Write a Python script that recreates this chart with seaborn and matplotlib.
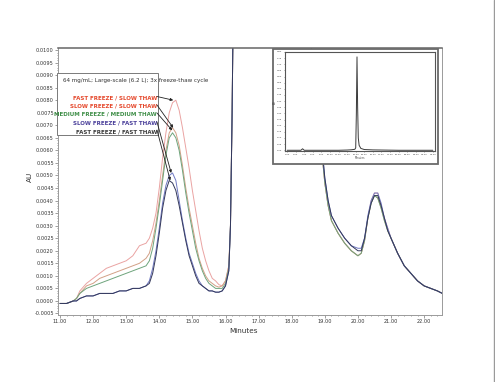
import matplotlib
matplotlib.use("Agg")
import matplotlib.pyplot as plt
import numpy as np
import pandas as pd
import seaborn as sns
from matplotlib.patches import Rectangle, ConnectionPatch
from matplotlib.lines import Line2D
from matplotlib.ticker import MultipleLocator, FormatStrFormatter

sns.set_theme(style="white")
plt.rcParams["font.family"] = ["DejaVu Sans"]

# ---------------- data ----------------
TIME = [11.0, 11.2, 11.4, 11.5, 11.6, 11.8, 12.0, 12.2, 12.4, 12.6, 12.8, 13.0,
        13.2, 13.4, 13.6, 13.7, 13.8, 13.9, 14.0, 14.1, 14.2, 14.3, 14.4, 14.5,
        14.6, 14.7, 14.8, 14.9, 15.0, 15.1, 15.2, 15.3, 15.4, 15.5, 15.6, 15.7,
        15.8, 15.9, 16.0, 16.1,
        16.15, 16.2, 16.25, 16.3, 16.5, 16.7, 17.0, 17.5, 18.0, 18.4, 18.6, 18.8,
        18.95, 19.0, 19.1, 19.2, 19.4, 19.6, 19.8, 20.0, 20.1, 20.2, 20.3, 20.4,
        20.5, 20.6, 20.7, 20.8, 20.9, 21.0, 21.2, 21.4, 21.6, 21.8, 22.0, 22.2,
        22.4, 22.55]

FAST_SLOW = [-0.0001, -0.0001, 0.0000, 0.0001, 0.0004, 0.0007, 0.0009, 0.0011, 0.0013, 0.0014, 0.0015, 0.0016,
             0.0018, 0.0022, 0.0023, 0.0025, 0.0029, 0.0035, 0.0045, 0.0057, 0.0067, 0.0075, 0.0079, 0.0080,
             0.0076, 0.0069, 0.0061, 0.0053, 0.0044, 0.0036, 0.0028, 0.0021, 0.0016, 0.0012, 0.0009, 0.0008,
             0.00065, 0.0006, 0.0008, 0.0014,
             0.0030, 0.0075, 0.0140, 0.030, 0.20, 0.36, 0.22, 0.06, 0.020, 0.0125, 0.0100, 0.0072,
             0.0054, 0.0047, 0.0038, 0.0032, 0.0027, 0.0023, 0.0020, 0.0018, 0.0019, 0.0024, 0.0033, 0.0040,
             0.0043, 0.0043, 0.0038, 0.0033, 0.0029, 0.0025, 0.0019, 0.0014, 0.0011, 0.0008, 0.0006, 0.0005,
             0.0004, 0.0003]

SLOW_SLOW = [-0.0001, -0.0001, 0.0000, 0.0001, 0.0003, 0.0006, 0.0007, 0.0009, 0.0010, 0.0011, 0.0012, 0.0013,
             0.0014, 0.0015, 0.0017, 0.0019, 0.0024, 0.0031, 0.0040, 0.0050, 0.0060, 0.0067, 0.0069, 0.0067,
             0.0062, 0.0054, 0.0045, 0.0037, 0.0030, 0.0023, 0.0017, 0.0013, 0.0010, 0.0008, 0.0007, 0.0006,
             0.00055, 0.0006, 0.0008, 0.0014,
             0.0030, 0.0075, 0.0140, 0.030, 0.20, 0.36, 0.22, 0.06, 0.020, 0.0125, 0.0100, 0.0072,
             0.0054, 0.0047, 0.0038, 0.0032, 0.0027, 0.0023, 0.0020, 0.0018, 0.0019, 0.0024, 0.0033, 0.0039,
             0.0042, 0.0041, 0.0037, 0.0032, 0.0028, 0.0025, 0.0019, 0.0014, 0.0011, 0.0008, 0.0006, 0.0005,
             0.0004, 0.0003]

MEDIUM_MEDIUM = [-0.0001, -0.0001, 0.0000, 0.0001, 0.0003, 0.0005, 0.0006, 0.0007, 0.0008, 0.0009, 0.0010, 0.0011,
                 0.0012, 0.0013, 0.0014, 0.0016, 0.0021, 0.0029, 0.0038, 0.0048, 0.0058, 0.0065, 0.0067, 0.0065,
                 0.0060, 0.0052, 0.0043, 0.0035, 0.0028, 0.0021, 0.0016, 0.0012, 0.0009, 0.0007, 0.0006, 0.0005,
                 0.0005, 0.0005, 0.0007, 0.0013,
                 0.0030, 0.0075, 0.0140, 0.030, 0.20, 0.36, 0.22, 0.06, 0.020, 0.0125, 0.0100, 0.0072,
                 0.0054, 0.0047, 0.0038, 0.0032, 0.0027, 0.0023, 0.0020, 0.0018, 0.0019, 0.0024, 0.0033, 0.0039,
                 0.0042, 0.0041, 0.0037, 0.0032, 0.0028, 0.0025, 0.0019, 0.0014, 0.0011, 0.0008, 0.0006, 0.0005,
                 0.0004, 0.0003]

SLOW_FAST = [-0.0001, -0.0001, 0.0000, 0.0000, 0.0001, 0.0002, 0.0002, 0.0003, 0.0003, 0.0003, 0.0004, 0.0004,
             0.0005, 0.0005, 0.0006, 0.0008, 0.0013, 0.0020, 0.0029, 0.0039, 0.0046, 0.0050, 0.0051, 0.0048,
             0.0040, 0.0032, 0.0025, 0.0019, 0.0015, 0.0011, 0.0008, 0.0006, 0.0005, 0.0004, 0.0004, 0.00035,
             0.00035, 0.0004, 0.0006, 0.0012,
             0.0030, 0.0075, 0.0140, 0.030, 0.20, 0.36, 0.22, 0.06, 0.020, 0.0125, 0.0100, 0.0073,
             0.0056, 0.0049, 0.0040, 0.0034, 0.0029, 0.0025, 0.0022, 0.0021, 0.0021, 0.0025, 0.0034, 0.0040,
             0.0043, 0.0043, 0.0039, 0.0033, 0.0029, 0.0025, 0.0019, 0.0014, 0.0011, 0.0008, 0.0006, 0.0005,
             0.0004, 0.0003]

FAST_FAST = [-0.0001, -0.0001, 0.0000, 0.0000, 0.0001, 0.0002, 0.0002, 0.0003, 0.0003, 0.0003, 0.0004, 0.0004,
             0.0005, 0.0005, 0.0006, 0.0007, 0.0011, 0.0018, 0.0027, 0.0037, 0.0044, 0.0048, 0.0047, 0.0044,
             0.0038, 0.0031, 0.0024, 0.0018, 0.0014, 0.0010, 0.0007, 0.0006, 0.0005, 0.0004, 0.0004, 0.00035,
             0.00035, 0.0004, 0.0006, 0.0012,
             0.0030, 0.0075, 0.0140, 0.030, 0.20, 0.36, 0.22, 0.06, 0.020, 0.0125, 0.0100, 0.0073,
             0.0056, 0.0049, 0.0040, 0.0034, 0.0029, 0.0025, 0.0022, 0.0020, 0.0020, 0.0025, 0.0033, 0.0039,
             0.0042, 0.0042, 0.0038, 0.0033, 0.0028, 0.0025, 0.0019, 0.0014, 0.0011, 0.0008, 0.0006, 0.0005,
             0.0004, 0.0003]

SAMPLES = ["FAST FREEZE / SLOW THAW", "SLOW FREEZE / SLOW THAW", "MEDIUM FREEZE / MEDIUM THAW",
           "SLOW FREEZE / FAST THAW", "FAST FREEZE / FAST THAW"]
VALUES = [FAST_SLOW, SLOW_SLOW, MEDIUM_MEDIUM, SLOW_FAST, FAST_FAST]
LINE_COLORS = ["#eaa3a2", "#d2a086", "#6ea47c", "#6f78c2", "#33385a"]
TEXT_COLORS = ["#e5482c", "#e5482c", "#3e8e47", "#4a3f9a", "#3a3a3a"]
ARROW_TARGETS = [(14.42, 0.0080), (14.42, 0.0069), (14.39, 0.0068), (14.36, 0.0051), (14.33, 0.0048)]

TITLE = "64 mg/mL; Large-scale (6.2 L); 3x freeze-thaw cycle"

INSET_TIME = [0, 2, 3.2, 3.6, 4.0, 6, 8, 10, 12, 14, 15, 15.8, 16.0, 16.15, 16.3, 16.45,
              16.6, 16.8, 17.2, 18.0, 20, 22, 24, 26, 28, 30, 32, 34]
INSET_AU = [0.0, 0.0, 0.0, 0.012, 0.0, 0.0, 0.0, 0.0, 0.0, 0.002, 0.004, 0.008, 0.02, 0.30, 0.76, 0.35,
            0.10, 0.04, 0.015, 0.006, 0.003, 0.002, 0.001, 0.0, 0.0, 0.0, 0.0, 0.0]

# ---------------- figure ----------------
W, H = 495, 382
fig = plt.figure(figsize=(W / 100, H / 100), dpi=100)
fig.patch.set_facecolor("white")


def fx(px):
    return px / W


def fy(py):
    return 1 - py / H


df = pd.concat([pd.DataFrame({"Minutes": TIME, "AU": v, "Sample": s})
                for s, v in zip(SAMPLES, VALUES)], ignore_index=True)

ax = fig.add_axes([fx(58), fy(315), fx(442) - fx(58), fy(48) - fy(315)])
sns.lineplot(data=df, x="Minutes", y="AU", hue="Sample", hue_order=SAMPLES,
             palette=dict(zip(SAMPLES, LINE_COLORS)), estimator=None, sort=False,
             linewidth=0.7, legend=False, ax=ax)

ax.set_xlim(10.94, 22.54)
ax.set_ylim(-0.00056, 0.01008)
ax.xaxis.set_major_locator(MultipleLocator(1))
ax.xaxis.set_minor_locator(MultipleLocator(0.2))
ax.xaxis.set_major_formatter(FormatStrFormatter("%.2f"))
ax.yaxis.set_major_locator(MultipleLocator(0.0005))
ax.yaxis.set_minor_locator(MultipleLocator(0.0001))
ax.yaxis.set_major_formatter(FormatStrFormatter("%.4f"))
ax.tick_params(which="both", bottom=True, left=True, direction="out",
               color="#777777", width=0.5, labelsize=3.6, labelcolor="#333333", pad=1)
ax.tick_params(which="major", length=2)
ax.tick_params(which="minor", length=1)
for side, sp in ax.spines.items():
    sp.set_color("#9a9a9a")
    sp.set_linewidth(0.7)
ax.spines["top"].set_color("#666666")
ax.spines["top"].set_linewidth(1.1)
ax.set_xlabel("")
ax.set_ylabel("")
fig.text(fx(243), fy(331), "Minutes", ha="center", va="center", fontsize=5.2, color="#333333")
fig.text(fx(30), fy(177), "AU", ha="center", va="center", rotation=90, fontsize=5.2, color="#333333")

# annotation box
fig.add_artist(Rectangle((fx(58), fy(136)), fx(158) - fx(57), fy(73) - fy(135),
                         transform=fig.transFigure, facecolor="#9a9a9a", edgecolor="none", zorder=4))
fig.add_artist(Rectangle((fx(57), fy(135)), fx(158) - fx(57), fy(73) - fy(135),
                         transform=fig.transFigure, facecolor="white", edgecolor="#7a7a7a",
                         linewidth=0.7, zorder=5))
fig.text(fx(63), fy(80.5), TITLE, ha="left", va="center", fontsize=4.1, color="#333333", zorder=7)
label_y = [97.7, 106, 114.3, 123.3, 131.7]
for s, c, yy in zip(SAMPLES, TEXT_COLORS, label_y):
    fig.text(fx(157), fy(yy), s, ha="right", va="center", fontsize=4.0, fontweight="bold",
             color=c, zorder=7)
arrow_start = [(157, 96.5), (157, 105), (157, 113), (157, 122), (157, 130)]
for (px, py), (tx, ty) in zip(arrow_start, ARROW_TARGETS):
    fig.add_artist(ConnectionPatch(
        xyA=(fx(px), fy(py)), coordsA=fig.transFigure, xyB=(tx, ty), coordsB=ax.transData,
        arrowstyle="-|>", mutation_scale=4, color="#222222", linewidth=0.6,
        shrinkA=0, shrinkB=0, zorder=8))

# inset
fig.add_artist(Rectangle((fx(273), fy(164)), fx(438) - fx(273), fy(49) - fy(164),
                         transform=fig.transFigure, facecolor="white", edgecolor="#6a6a6a",
                         linewidth=1.3, zorder=5))
iax = fig.add_axes([fx(285), fy(151.5), fx(435) - fx(285), fy(52) - fy(151.5)], zorder=6)
sns.lineplot(x=INSET_TIME, y=INSET_AU, color="#3a3a3a", linewidth=0.7, estimator=None,
             sort=False, ax=iax)
iax.set_xlim(-0.5, 34.5)
iax.set_ylim(-0.01, 0.80)
iax.xaxis.set_major_locator(MultipleLocator(2))
iax.xaxis.set_major_formatter(FormatStrFormatter("%.2f"))
iax.yaxis.set_major_locator(MultipleLocator(0.05))
iax.yaxis.set_major_formatter(FormatStrFormatter("%.2f"))
iax.tick_params(which="both", bottom=True, left=True, direction="out", length=1,
                width=0.4, color="#555555", labelsize=1.7, labelcolor="#444444", pad=0.8)
for sp in iax.spines.values():
    sp.set_color("#555555")
    sp.set_linewidth(0.8)
iax.set_xlabel("Minutes", fontsize=1.9, labelpad=0.5, color="#444444")
iax.set_ylabel("AU", fontsize=1.9, labelpad=0.5, color="#444444")

# scan page edge
fig.add_artist(Line2D([fx(494), fx(494)], [0, 1], transform=fig.transFigure,
                      color="#9a9a9a", linewidth=1.0))

fig.savefig("out.png", dpi=100, facecolor="white")
